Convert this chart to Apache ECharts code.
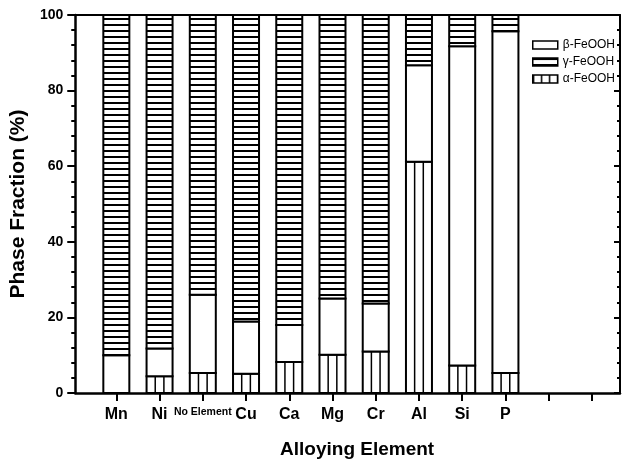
<!DOCTYPE html>
<html>
<head>
<meta charset="utf-8">
<script src="https://cdn.jsdelivr.net/npm/echarts@6/dist/echarts.min.js"></script>
<style>html,body{margin:0;padding:0;background:#fff;overflow:hidden}#c{width:622px;height:464px}</style>
</head>
<body>
<div id="c"></div>
<script>
const categories = ['Mn', 'Ni', 'No Element', 'Cu', 'Ca', 'Mg', 'Cr', 'Al', 'Si', 'P'];
const positions = [1, 2, 3, 4, 5, 6, 7, 8, 9, 10];
const tickPositions = [1, 2, 3, 4, 5, 6, 7, 8, 9, 10, 11, 12];
const alphaFeOOH = [0, 4.4, 5.3, 5.1, 8.2, 10.1, 11, 61.2, 7.3, 5.3];
const betaFeOOH = [10, 7.4, 20.7, 13.8, 9.8, 14.9, 12.7, 25.5, 84.4, 90.4];
const gammaFeOOH = [90, 88.2, 74, 81.1, 82, 75, 76.3, 13.3, 8.3, 4.3];

const FONT = '"Liberation Sans", Arial, sans-serif';

function hPattern() {
  const c = document.createElement('canvas');
  c.width = 4; c.height = 6;
  const g = c.getContext('2d');
  g.fillStyle = '#fff'; g.fillRect(0, 0, 4, 6);
  g.fillStyle = '#000'; g.fillRect(0, 0, 4, 2);
  return { image: c, repeat: 'repeat' };
}
function vPattern() {
  const c = document.createElement('canvas');
  c.width = 8; c.height = 4;
  const g = c.getContext('2d');
  g.fillStyle = '#fff'; g.fillRect(0, 0, 8, 4);
  g.fillStyle = '#000'; g.fillRect(0, 0, 1.5, 4);
  return { image: c, repeat: 'repeat' };
}

// stacked rows: [x, base, value]
const alphaRows = positions.map((p, i) => [p, 0, alphaFeOOH[i]]);
const betaRows = positions.map((p, i) => [p, alphaFeOOH[i], betaFeOOH[i]]);
const gammaRows = positions.map((p, i) => [p, alphaFeOOH[i] + betaFeOOH[i], gammaFeOOH[i]]);

const BW = 26;
function makeRender(kind) {
  const fill = kind === 'gamma' ? hPattern() : '#fff';
  return function (params, api) {
    const x = api.value(0), base = api.value(1), v = api.value(2);
    if (!v) return null;
    const p0 = api.coord([x, base]), p1 = api.coord([x, base + v]);
    const left = p0[0] - BW / 2;
    const children = [{
      type: 'rect',
      shape: { x: left, y: p1[1], width: BW, height: p0[1] - p1[1] },
      style: { fill: fill, stroke: '#000', lineWidth: 2 }
    }];
    if (kind === 'alpha') {
      [1, 2].forEach(function (k) {
        const xx = left + k * BW / 3;
        children.push({ type: 'line', shape: { x1: xx, y1: p0[1], x2: xx, y2: p1[1] }, style: { stroke: '#000', lineWidth: 1.5 } });
      });
    }
    return { type: 'group', children: children };
  };
}

const chart = echarts.init(document.getElementById('c'), null, { renderer: 'canvas' });

const option = {
  animation: false,
  backgroundColor: '#fff',
  grid: { left: 72, right: 2, top: 15, bottom: 68 },
  legend: {
    orient: 'vertical', left: 527, top: 34,
    itemWidth: 25, itemHeight: 8, itemGap: 5,
    icon: 'rect',
    textStyle: { fontFamily: FONT, fontSize: 12, color: '#000' },
    data: [
      { name: 'β-FeOOH', itemStyle: { color: '#fff', borderColor: '#000', borderWidth: 1.5 } },
      { name: 'γ-FeOOH', itemStyle: { color: hPattern(), borderColor: '#000', borderWidth: 1.5 } },
      { name: 'α-FeOOH', itemStyle: { color: vPattern(), borderColor: '#000', borderWidth: 1.5 } }
    ]
  },
  xAxis: [
    {
      type: 'value', position: 'bottom', min: 0.05, max: 12.65,
      name: 'Alloying Element', nameLocation: 'middle', nameGap: 47,
      nameTextStyle: { fontFamily: FONT, fontSize: 19, fontWeight: 'bold', color: '#000', padding: [0, 0, 0, 19] },
      axisLine: { show: true, onZero: false, lineStyle: { color: '#000', width: 2.5 } },
      axisTick: { show: true, length: 8, lineStyle: { color: '#000', width: 2 }, customValues: tickPositions },
      axisLabel: {
        customValues: positions, margin: 14,
        formatter: function (v) {
          const name = categories[Math.round(v) - 1];
          if (!name) return '';
          return name === 'No Element' ? '{s|' + name + '}' : '{b|' + name + '}';
        },
        rich: {
          b: { fontFamily: FONT, fontSize: 16, fontWeight: 'bold', color: '#000' },
          s: { fontFamily: FONT, fontSize: 10.5, fontWeight: 'bold', color: '#000' }
        }
      },
      splitLine: { show: false }
    },
    {
      type: 'value', position: 'top', min: 0.05, max: 12.65,
      axisLine: { show: true, onZero: false, lineStyle: { color: '#000', width: 2 } },
      axisTick: { show: false }, axisLabel: { show: false }, splitLine: { show: false }
    }
  ],
  yAxis: [
    {
      type: 'value', position: 'left', min: 0, max: 100, interval: 20,
      name: 'Phase Fraction (%)', nameLocation: 'middle', nameGap: 37,
      nameTextStyle: { fontFamily: FONT, fontSize: 21, fontWeight: 'bold', color: '#000' },
      axisLine: { show: true, onZero: false, lineStyle: { color: '#000', width: 2.5 } },
      axisTick: { show: true, length: 8, lineStyle: { color: '#000', width: 2 } },
      minorTick: { show: true, splitNumber: 5, length: 4, lineStyle: { color: '#000', width: 2 } },
      axisLabel: { margin: 12, fontFamily: FONT, fontSize: 14, fontWeight: 'bold', color: '#000' },
      splitLine: { show: false }
    },
    {
      type: 'value', position: 'right', min: 0, max: 100, interval: 20,
      axisLine: { show: true, onZero: false, lineStyle: { color: '#000', width: 2 } },
      axisTick: { show: true, inside: true, length: 6, lineStyle: { color: '#000', width: 2 } },
      minorTick: { show: true, splitNumber: 5, length: 3, lineStyle: { color: '#000', width: 2 } },
      axisLabel: { show: false }, splitLine: { show: false }
    }
  ],
  series: [
    { type: 'custom', name: 'α-FeOOH', xAxisIndex: 0, yAxisIndex: 0, data: alphaRows, renderItem: makeRender('alpha'), encode: { x: 0, y: [1, 2] }, silent: true, z: 3 },
    { type: 'custom', name: 'β-FeOOH', xAxisIndex: 0, yAxisIndex: 0, data: betaRows, renderItem: makeRender('beta'), encode: { x: 0, y: [1, 2] }, silent: true, z: 3 },
    { type: 'custom', name: 'γ-FeOOH', xAxisIndex: 0, yAxisIndex: 0, data: gammaRows, renderItem: makeRender('gamma'), encode: { x: 0, y: [1, 2] }, silent: true, z: 3 },
    { type: 'line', name: 'frame', xAxisIndex: 1, yAxisIndex: 1, data: [], silent: true }
  ]
};
chart.setOption(option);
</script>
</body>
</html>
